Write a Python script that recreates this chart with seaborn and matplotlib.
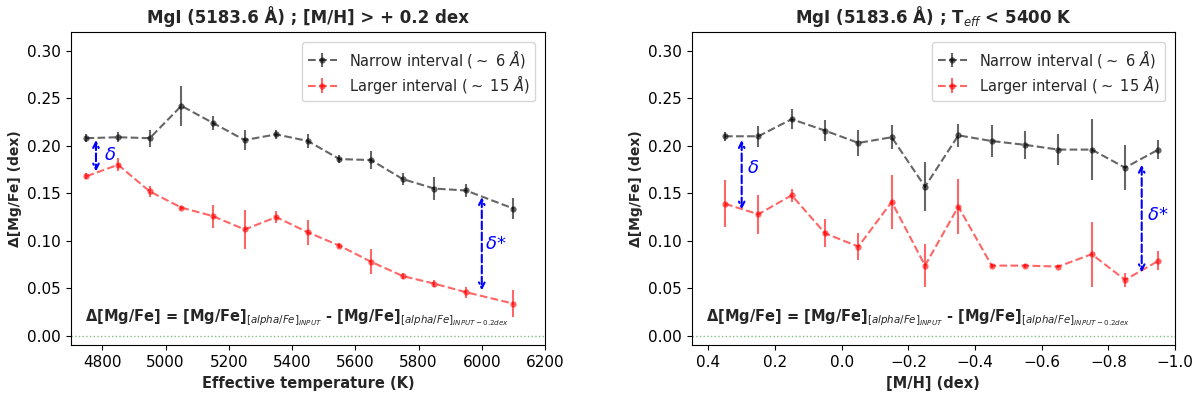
import numpy as np
import matplotlib
matplotlib.use("Agg")
import matplotlib.pyplot as plt
import seaborn as sns

# Left panel: Teff bins ([M/H] > +0.2 dex)
teff = [4750, 4850, 4950, 5050, 5150, 5250, 5350, 5450, 5550, 5650, 5750, 5850, 5950, 6100]
teff_narrow = [0.208, 0.209, 0.208, 0.242, 0.224, 0.206, 0.212, 0.205, 0.186, 0.185, 0.165, 0.155, 0.153, 0.134]
teff_narrow_err = [0.004, 0.005, 0.009, 0.021, 0.007, 0.0105, 0.005, 0.007, 0.004, 0.009, 0.006, 0.012, 0.0066, 0.011]
teff_larger = [0.168, 0.180, 0.152, 0.135, 0.126, 0.112, 0.125, 0.109, 0.095, 0.078, 0.063, 0.055, 0.046, 0.034]
teff_larger_err = [0.003, 0.007, 0.006, 0.002, 0.012, 0.021, 0.006, 0.013, 0.003, 0.013, 0.003, 0.004, 0.006, 0.014]

# Right panel: [M/H] bins (Teff < 5400 K)
mh = [0.35, 0.25, 0.15, 0.05, -0.05, -0.15, -0.25, -0.35, -0.45, -0.55, -0.65, -0.75, -0.85, -0.95]
mh_narrow = [0.210, 0.210, 0.228, 0.216, 0.203, 0.209, 0.157, 0.211, 0.205, 0.201, 0.196, 0.196, 0.177, 0.196]
mh_narrow_err = [0.005, 0.011, 0.0105, 0.011, 0.014, 0.0126, 0.0255, 0.012, 0.017, 0.015, 0.016, 0.032, 0.0236, 0.0096]
mh_larger = [0.139, 0.128, 0.148, 0.108, 0.094, 0.141, 0.074, 0.136, 0.074, 0.074, 0.073, 0.086, 0.059, 0.079]
mh_larger_err = [0.0245, 0.0206, 0.007, 0.0145, 0.0145, 0.028, 0.0227, 0.0288, 0.002, 0.002, 0.002, 0.034, 0.007, 0.010]

labels = [r"Narrow interval ($\sim$ 6 $\AA$)", r"Larger interval ($\sim$ 15 $\AA$)"]
colors = ["black", "red"]

eq_text = ("Δ[Mg/Fe] = [Mg/Fe]$_{[alpha/Fe]_{INPUT}}$"
           " - [Mg/Fe]$_{[alpha/Fe]_{INPUT-0.2dex}}$")

sns.set_style("ticks")
plt.rcParams["font.family"] = ["DejaVu Sans"]
plt.rcParams["axes.edgecolor"] = "black"
plt.rcParams["xtick.color"] = "black"
plt.rcParams["ytick.color"] = "black"

fig = plt.figure(figsize=(12, 3.93), dpi=100)
ax1 = fig.add_axes([0.0589, 0.1209, 0.3953, 0.7985])
ax2 = fig.add_axes([0.5764, 0.1209, 0.4028, 0.7985])


def draw(ax, x, series):
    handles = []
    for (y, err), c, lab in zip(series, colors, labels):
        sns.lineplot(x=x, y=y, ax=ax, color=c, alpha=0.6, linestyle="--", lw=1.5,
                     marker="o", markersize=4.5, markeredgewidth=0, sort=False)
        line = ax.lines[-1]
        eb = ax.errorbar(x, y, yerr=err, fmt="none", ecolor=c, alpha=0.6, elinewidth=1.5)
        handles.append((eb, line))
    ax.axhline(0, color="green", ls=":", lw=1, alpha=0.5)
    ax.legend(handles, labels, loc="upper right", fontsize=10.5, borderaxespad=0.7,
              labelspacing=0.2, borderpad=0.4)
    ax.set_ylim(-0.01, 0.32)
    ax.set_yticks(np.arange(0, 0.31, 0.05))
    ax.set_yticklabels([f"{v:.2f}" for v in np.arange(0, 0.31, 0.05)])
    ax.set_ylabel("Δ[Mg/Fe] (dex)", fontweight="bold", fontsize=10)
    ax.tick_params(labelsize=11)


def arrow(ax, x, y0, y1):
    ax.annotate("", xy=(x, y1), xytext=(x, y0),
                arrowprops=dict(arrowstyle="<->", color="blue", ls="--", lw=1.5,
                                shrinkA=0, shrinkB=0))


draw(ax1, teff, [(teff_narrow, teff_narrow_err), (teff_larger, teff_larger_err)])
ax1.set_xlim(4700, 6200)
ax1.set_xlabel("Effective temperature (K)", fontweight="bold", fontsize=10.5)
ax1.set_title("MgI (5183.6 Å) ; [M/H] > + 0.2 dex", fontweight="bold", fontsize=12)
arrow(ax1, 4780, 0.206, 0.173)
ax1.text(4805, 0.190, r"$\delta$", color="blue", fontsize=13, va="center")
arrow(ax1, 6000, 0.146, 0.048)
ax1.text(6010, 0.097, r"$\delta$*", color="blue", fontsize=13, va="center")
ax1.text(4745, 0.008, eq_text, fontweight="bold", fontsize=10.5, va="bottom")

draw(ax2, mh, [(mh_narrow, mh_narrow_err), (mh_larger, mh_larger_err)])
ax2.set_xlim(0.45, -1.0)
ax2.set_xticks(np.arange(0.4, -1.01, -0.2))
ax2.set_xlabel("[M/H] (dex)", fontweight="bold", fontsize=10.5)
ax2.set_title(r"MgI (5183.6 Å) ; T$_{eff}$ < 5400 K", fontweight="bold", fontsize=12)
arrow(ax2, 0.30, 0.206, 0.133)
ax2.text(0.285, 0.177, r"$\delta$", color="blue", fontsize=13, va="center")
arrow(ax2, -0.90, 0.180, 0.067)
ax2.text(-0.915, 0.127, r"$\delta$*", color="blue", fontsize=13, va="center")
ax2.text(0.407, 0.008, eq_text, fontweight="bold", fontsize=10.5, va="bottom")

fig.savefig("out.png", dpi=100)
plt.close(fig)
